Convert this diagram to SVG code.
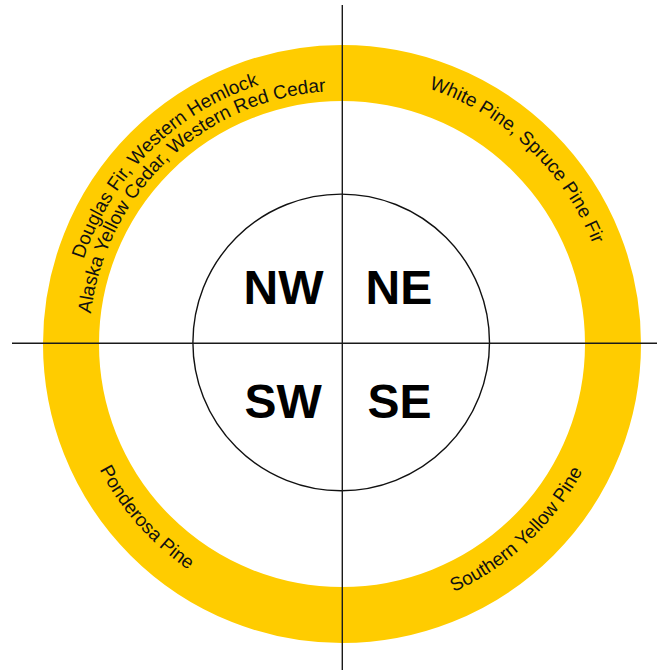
<svg xmlns="http://www.w3.org/2000/svg" xmlns:xlink="http://www.w3.org/1999/xlink" width="657" height="670" viewBox="0 0 657 670">
  <style>
    .ring { fill: none; stroke: #FFCC00; stroke-width: 56; }
    .inner { fill: #FFFFFF; stroke: #111111; stroke-width: 1.4; }
    .axis { stroke: #1a1a1a; stroke-width: 1.4; fill: none; }
    .quad { font-family: "Liberation Sans", Arial, sans-serif; font-weight: bold; font-size: 48px; fill: #000000; }
    .species { font-family: "Liberation Sans", Arial, sans-serif; font-size: 19px; fill: #111111; }
  </style>
  <defs>
    <path id="arcTop272" d="M70 344 A272 272 0 0 1 614 344"/>
    <path id="arcTop253" d="M89 344 A253 253 0 0 1 595 344"/>
    <path id="arcTop270" d="M72 344 A270 270 0 0 1 612 344"/>
    <path id="arcBot273" d="M69 344 A273 273 0 0 0 615 344"/>
    <path id="arcBot272" d="M70 344 A272 272 0 0 0 614 344"/>
  </defs>
  <rect x="0" y="0" width="657" height="670" fill="#FFFFFF"/>

  <g id="ring">
    <circle class="ring" cx="342" cy="344" r="271"/>
  </g>

  <g id="center-circle">
    <circle class="inner" cx="341.2" cy="342.4" r="148.3"/>
  </g>

  <g id="connectors">
    <line class="axis" x1="342.3" y1="5" x2="342.3" y2="670"/>
    <line class="axis" x1="12" y1="343.3" x2="657" y2="343.3"/>
  </g>

  <g id="node-nw">
    <text class="quad" x="243.5" y="304">NW</text>
    <text class="species" text-anchor="middle"><textPath xlink:href="#arcTop272" href="#arcTop272" startOffset="25.1%">Douglas Fir, Western Hemlock</textPath></text>
    <text class="species" text-anchor="middle"><textPath xlink:href="#arcTop253" href="#arcTop253" startOffset="25.9%">Alaska Yellow Cedar, Western Red Cedar</textPath></text>
  </g>

  <g id="node-ne">
    <text class="quad" x="365.5" y="304">NE</text>
    <text class="species" text-anchor="middle"><textPath xlink:href="#arcTop270" href="#arcTop270" startOffset="74.2%">White Pine, Spruce Pine Fir</textPath></text>
  </g>

  <g id="node-sw">
    <text class="quad" x="244.5" y="418.3">SW</text>
    <text class="species" text-anchor="middle"><textPath xlink:href="#arcBot273" href="#arcBot273" startOffset="23.1%">Ponderosa Pine</textPath></text>
  </g>

  <g id="node-se">
    <text class="quad" x="367.5" y="418.3">SE</text>
    <text class="species" text-anchor="middle"><textPath xlink:href="#arcBot272" href="#arcBot272" startOffset="74%">Southern Yellow Pine</textPath></text>
  </g>
</svg>
